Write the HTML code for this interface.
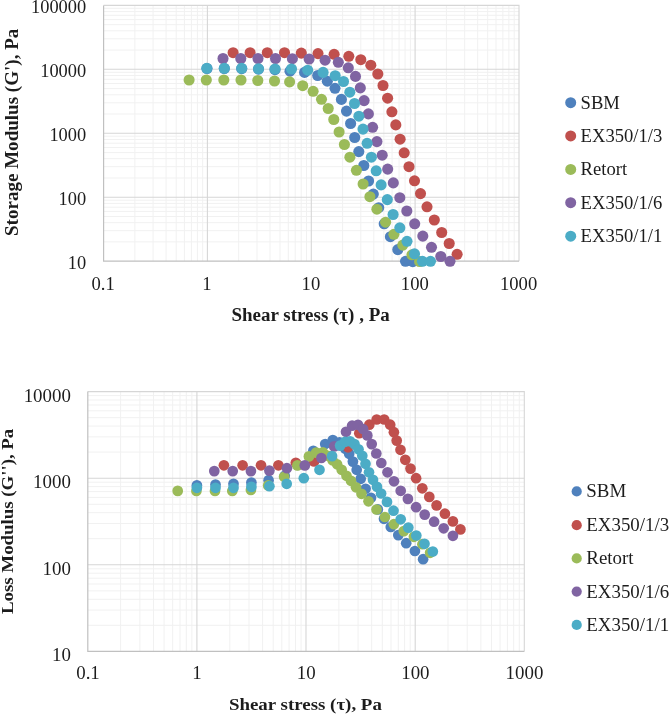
<!DOCTYPE html>
<html><head><meta charset="utf-8"><title>Moduli vs shear stress</title>
<style>html,body{margin:0;padding:0;background:#fff}body{width:669px;height:715px;overflow:hidden}svg{display:block}text{font-family:"Liberation Serif",serif;fill:#1c1c1c}</style>
</head><body>
<svg width="669" height="715" viewBox="0 0 669 715">
<rect width="669" height="715" fill="#fff"/>
<g transform="translate(0,0.5)">
<line x1="134.9" y1="4.9" x2="134.9" y2="260.7" stroke="#f1f1f1" stroke-width="1"/>
<line x1="153.1" y1="4.9" x2="153.1" y2="260.7" stroke="#f1f1f1" stroke-width="1"/>
<line x1="166.1" y1="4.9" x2="166.1" y2="260.7" stroke="#f1f1f1" stroke-width="1"/>
<line x1="176.2" y1="4.9" x2="176.2" y2="260.7" stroke="#f1f1f1" stroke-width="1"/>
<line x1="184.4" y1="4.9" x2="184.4" y2="260.7" stroke="#f1f1f1" stroke-width="1"/>
<line x1="191.4" y1="4.9" x2="191.4" y2="260.7" stroke="#f1f1f1" stroke-width="1"/>
<line x1="197.4" y1="4.9" x2="197.4" y2="260.7" stroke="#f1f1f1" stroke-width="1"/>
<line x1="202.7" y1="4.9" x2="202.7" y2="260.7" stroke="#f1f1f1" stroke-width="1"/>
<line x1="238.7" y1="4.9" x2="238.7" y2="260.7" stroke="#f1f1f1" stroke-width="1"/>
<line x1="257.0" y1="4.9" x2="257.0" y2="260.7" stroke="#f1f1f1" stroke-width="1"/>
<line x1="270.0" y1="4.9" x2="270.0" y2="260.7" stroke="#f1f1f1" stroke-width="1"/>
<line x1="280.0" y1="4.9" x2="280.0" y2="260.7" stroke="#f1f1f1" stroke-width="1"/>
<line x1="288.3" y1="4.9" x2="288.3" y2="260.7" stroke="#f1f1f1" stroke-width="1"/>
<line x1="295.2" y1="4.9" x2="295.2" y2="260.7" stroke="#f1f1f1" stroke-width="1"/>
<line x1="301.2" y1="4.9" x2="301.2" y2="260.7" stroke="#f1f1f1" stroke-width="1"/>
<line x1="306.5" y1="4.9" x2="306.5" y2="260.7" stroke="#f1f1f1" stroke-width="1"/>
<line x1="342.6" y1="4.9" x2="342.6" y2="260.7" stroke="#f1f1f1" stroke-width="1"/>
<line x1="360.8" y1="4.9" x2="360.8" y2="260.7" stroke="#f1f1f1" stroke-width="1"/>
<line x1="373.8" y1="4.9" x2="373.8" y2="260.7" stroke="#f1f1f1" stroke-width="1"/>
<line x1="383.9" y1="4.9" x2="383.9" y2="260.7" stroke="#f1f1f1" stroke-width="1"/>
<line x1="392.1" y1="4.9" x2="392.1" y2="260.7" stroke="#f1f1f1" stroke-width="1"/>
<line x1="399.1" y1="4.9" x2="399.1" y2="260.7" stroke="#f1f1f1" stroke-width="1"/>
<line x1="405.1" y1="4.9" x2="405.1" y2="260.7" stroke="#f1f1f1" stroke-width="1"/>
<line x1="410.4" y1="4.9" x2="410.4" y2="260.7" stroke="#f1f1f1" stroke-width="1"/>
<line x1="446.4" y1="4.9" x2="446.4" y2="260.7" stroke="#f1f1f1" stroke-width="1"/>
<line x1="464.7" y1="4.9" x2="464.7" y2="260.7" stroke="#f1f1f1" stroke-width="1"/>
<line x1="477.7" y1="4.9" x2="477.7" y2="260.7" stroke="#f1f1f1" stroke-width="1"/>
<line x1="487.7" y1="4.9" x2="487.7" y2="260.7" stroke="#f1f1f1" stroke-width="1"/>
<line x1="496.0" y1="4.9" x2="496.0" y2="260.7" stroke="#f1f1f1" stroke-width="1"/>
<line x1="502.9" y1="4.9" x2="502.9" y2="260.7" stroke="#f1f1f1" stroke-width="1"/>
<line x1="508.9" y1="4.9" x2="508.9" y2="260.7" stroke="#f1f1f1" stroke-width="1"/>
<line x1="514.2" y1="4.9" x2="514.2" y2="260.7" stroke="#f1f1f1" stroke-width="1"/>
<line x1="103.6" y1="241.4" x2="519" y2="241.4" stroke="#f1f1f1" stroke-width="1"/>
<line x1="103.6" y1="230.2" x2="519" y2="230.2" stroke="#f1f1f1" stroke-width="1"/>
<line x1="103.6" y1="222.2" x2="519" y2="222.2" stroke="#f1f1f1" stroke-width="1"/>
<line x1="103.6" y1="216.0" x2="519" y2="216.0" stroke="#f1f1f1" stroke-width="1"/>
<line x1="103.6" y1="210.9" x2="519" y2="210.9" stroke="#f1f1f1" stroke-width="1"/>
<line x1="103.6" y1="206.7" x2="519" y2="206.7" stroke="#f1f1f1" stroke-width="1"/>
<line x1="103.6" y1="202.9" x2="519" y2="202.9" stroke="#f1f1f1" stroke-width="1"/>
<line x1="103.6" y1="199.7" x2="519" y2="199.7" stroke="#f1f1f1" stroke-width="1"/>
<line x1="103.6" y1="177.5" x2="519" y2="177.5" stroke="#f1f1f1" stroke-width="1"/>
<line x1="103.6" y1="166.2" x2="519" y2="166.2" stroke="#f1f1f1" stroke-width="1"/>
<line x1="103.6" y1="158.2" x2="519" y2="158.2" stroke="#f1f1f1" stroke-width="1"/>
<line x1="103.6" y1="152.1" x2="519" y2="152.1" stroke="#f1f1f1" stroke-width="1"/>
<line x1="103.6" y1="147.0" x2="519" y2="147.0" stroke="#f1f1f1" stroke-width="1"/>
<line x1="103.6" y1="142.7" x2="519" y2="142.7" stroke="#f1f1f1" stroke-width="1"/>
<line x1="103.6" y1="139.0" x2="519" y2="139.0" stroke="#f1f1f1" stroke-width="1"/>
<line x1="103.6" y1="135.7" x2="519" y2="135.7" stroke="#f1f1f1" stroke-width="1"/>
<line x1="103.6" y1="113.5" x2="519" y2="113.5" stroke="#f1f1f1" stroke-width="1"/>
<line x1="103.6" y1="102.3" x2="519" y2="102.3" stroke="#f1f1f1" stroke-width="1"/>
<line x1="103.6" y1="94.3" x2="519" y2="94.3" stroke="#f1f1f1" stroke-width="1"/>
<line x1="103.6" y1="88.1" x2="519" y2="88.1" stroke="#f1f1f1" stroke-width="1"/>
<line x1="103.6" y1="83.0" x2="519" y2="83.0" stroke="#f1f1f1" stroke-width="1"/>
<line x1="103.6" y1="78.8" x2="519" y2="78.8" stroke="#f1f1f1" stroke-width="1"/>
<line x1="103.6" y1="75.0" x2="519" y2="75.0" stroke="#f1f1f1" stroke-width="1"/>
<line x1="103.6" y1="71.8" x2="519" y2="71.8" stroke="#f1f1f1" stroke-width="1"/>
<line x1="103.6" y1="49.6" x2="519" y2="49.6" stroke="#f1f1f1" stroke-width="1"/>
<line x1="103.6" y1="38.3" x2="519" y2="38.3" stroke="#f1f1f1" stroke-width="1"/>
<line x1="103.6" y1="30.3" x2="519" y2="30.3" stroke="#f1f1f1" stroke-width="1"/>
<line x1="103.6" y1="24.2" x2="519" y2="24.2" stroke="#f1f1f1" stroke-width="1"/>
<line x1="103.6" y1="19.1" x2="519" y2="19.1" stroke="#f1f1f1" stroke-width="1"/>
<line x1="103.6" y1="14.8" x2="519" y2="14.8" stroke="#f1f1f1" stroke-width="1"/>
<line x1="103.6" y1="11.1" x2="519" y2="11.1" stroke="#f1f1f1" stroke-width="1"/>
<line x1="103.6" y1="7.8" x2="519" y2="7.8" stroke="#f1f1f1" stroke-width="1"/>
<line x1="207.4" y1="4.9" x2="207.4" y2="260.7" stroke="#d6d6d6" stroke-width="1.1"/>
<line x1="311.3" y1="4.9" x2="311.3" y2="260.7" stroke="#d6d6d6" stroke-width="1.1"/>
<line x1="415.1" y1="4.9" x2="415.1" y2="260.7" stroke="#d6d6d6" stroke-width="1.1"/>
<line x1="103.6" y1="68.8" x2="519" y2="68.8" stroke="#d6d6d6" stroke-width="1.1"/>
<line x1="103.6" y1="132.8" x2="519" y2="132.8" stroke="#d6d6d6" stroke-width="1.1"/>
<line x1="103.6" y1="196.8" x2="519" y2="196.8" stroke="#d6d6d6" stroke-width="1.1"/>
<path d="M103.6 4.9H519V260.7" fill="none" stroke="#d6d6d6" stroke-width="1.1"/>
<path d="M103.6 4.9V260.7H519" fill="none" stroke="#c0c0c0" stroke-width="1.2"/>
<g fill="#4f81bd"><circle cx="207" cy="68" r="5.55"/><circle cx="224.3" cy="68" r="5.55"/><circle cx="241.7" cy="68.2" r="5.55"/><circle cx="258.5" cy="68.6" r="5.55"/><circle cx="275" cy="69.2" r="5.55"/><circle cx="290" cy="70.7" r="5.55"/><circle cx="304.6" cy="71.9" r="5.55"/><circle cx="317.7" cy="75" r="5.55"/><circle cx="327.3" cy="80.7" r="5.55"/><circle cx="335" cy="87.8" r="5.55"/><circle cx="341.4" cy="98.9" r="5.55"/><circle cx="346.5" cy="110.6" r="5.55"/><circle cx="350.6" cy="123" r="5.55"/><circle cx="354.7" cy="137" r="5.55"/><circle cx="358.8" cy="151.1" r="5.55"/><circle cx="363.8" cy="165" r="5.55"/><circle cx="368.6" cy="180.5" r="5.55"/><circle cx="373.3" cy="193.6" r="5.55"/><circle cx="378.7" cy="207.2" r="5.55"/><circle cx="384.2" cy="223.3" r="5.55"/><circle cx="390.4" cy="236.2" r="5.55"/><circle cx="397.8" cy="249.1" r="5.55"/><circle cx="405.5" cy="260.8" r="5.55"/><circle cx="412.8" cy="261.2" r="5.55"/></g>
<g fill="#c0504d"><circle cx="233.1" cy="52.2" r="5.55"/><circle cx="250.1" cy="52.2" r="5.55"/><circle cx="267.3" cy="52.2" r="5.55"/><circle cx="284.5" cy="52.2" r="5.55"/><circle cx="301.3" cy="52.6" r="5.55"/><circle cx="318" cy="53.1" r="5.55"/><circle cx="334.1" cy="53.8" r="5.55"/><circle cx="348.8" cy="55.8" r="5.55"/><circle cx="360.8" cy="59.2" r="5.55"/><circle cx="370.8" cy="64.7" r="5.55"/><circle cx="377.8" cy="73.5" r="5.55"/><circle cx="383" cy="85" r="5.55"/><circle cx="387.6" cy="97.7" r="5.55"/><circle cx="391.9" cy="111.3" r="5.55"/><circle cx="395.8" cy="124.4" r="5.55"/><circle cx="400.1" cy="138.7" r="5.55"/><circle cx="404.2" cy="152.3" r="5.55"/><circle cx="409" cy="166.2" r="5.55"/><circle cx="414.5" cy="180.3" r="5.55"/><circle cx="420.5" cy="193.1" r="5.55"/><circle cx="427" cy="206.3" r="5.55"/><circle cx="434.3" cy="219.5" r="5.55"/><circle cx="441.7" cy="232" r="5.55"/><circle cx="449.2" cy="243" r="5.55"/><circle cx="457.1" cy="253.8" r="5.55"/></g>
<g fill="#9bbb59"><circle cx="189.1" cy="79.5" r="5.55"/><circle cx="206.3" cy="79.5" r="5.55"/><circle cx="223.8" cy="79.5" r="5.55"/><circle cx="241" cy="79.5" r="5.55"/><circle cx="257.8" cy="80" r="5.55"/><circle cx="274.5" cy="80.5" r="5.55"/><circle cx="289.6" cy="81.4" r="5.55"/><circle cx="302.7" cy="85.2" r="5.55"/><circle cx="313.1" cy="90.8" r="5.55"/><circle cx="321.5" cy="98.8" r="5.55"/><circle cx="328.2" cy="108" r="5.55"/><circle cx="333.8" cy="119" r="5.55"/><circle cx="339.1" cy="131.5" r="5.55"/><circle cx="344.4" cy="144" r="5.55"/><circle cx="349.9" cy="156.7" r="5.55"/><circle cx="356.4" cy="169.8" r="5.55"/><circle cx="363.1" cy="183.5" r="5.55"/><circle cx="369.9" cy="196.2" r="5.55"/><circle cx="376.9" cy="208.7" r="5.55"/><circle cx="385.6" cy="221.7" r="5.55"/><circle cx="393.9" cy="233.8" r="5.55"/><circle cx="402.8" cy="244.6" r="5.55"/><circle cx="411.9" cy="254.3" r="5.55"/><circle cx="419.6" cy="261" r="5.55"/></g>
<g fill="#8064a2"><circle cx="223" cy="58" r="5.55"/><circle cx="240.8" cy="58" r="5.55"/><circle cx="258" cy="58" r="5.55"/><circle cx="275.5" cy="58" r="5.55"/><circle cx="292.4" cy="58.2" r="5.55"/><circle cx="309.1" cy="58.5" r="5.55"/><circle cx="325.1" cy="59.7" r="5.55"/><circle cx="338.3" cy="61.8" r="5.55"/><circle cx="348.3" cy="67.3" r="5.55"/><circle cx="355.5" cy="75.9" r="5.55"/><circle cx="360.3" cy="87.4" r="5.55"/><circle cx="364.1" cy="100.1" r="5.55"/><circle cx="368.4" cy="113.4" r="5.55"/><circle cx="372.6" cy="126.8" r="5.55"/><circle cx="376.9" cy="141.1" r="5.55"/><circle cx="382.2" cy="154.7" r="5.55"/><circle cx="387.7" cy="168.6" r="5.55"/><circle cx="393.3" cy="182.4" r="5.55"/><circle cx="399.8" cy="197.2" r="5.55"/><circle cx="406.8" cy="210.5" r="5.55"/><circle cx="414.7" cy="223.3" r="5.55"/><circle cx="422.8" cy="235.6" r="5.55"/><circle cx="431.5" cy="246.8" r="5.55"/><circle cx="440.8" cy="256" r="5.55"/><circle cx="450" cy="260.8" r="5.55"/></g>
<g fill="#4bacc6"><circle cx="206.8" cy="67.8" r="5.55"/><circle cx="224.3" cy="67.8" r="5.55"/><circle cx="241.7" cy="67.8" r="5.55"/><circle cx="258.5" cy="68.3" r="5.55"/><circle cx="275" cy="68.5" r="5.55"/><circle cx="291.5" cy="68.5" r="5.55"/><circle cx="307.7" cy="69.7" r="5.55"/><circle cx="323.1" cy="71.9" r="5.55"/><circle cx="335.2" cy="75.2" r="5.55"/><circle cx="343.5" cy="81" r="5.55"/><circle cx="349.8" cy="91.7" r="5.55"/><circle cx="354.5" cy="103" r="5.55"/><circle cx="358.9" cy="115.7" r="5.55"/><circle cx="363" cy="128.6" r="5.55"/><circle cx="367.1" cy="142.8" r="5.55"/><circle cx="371.4" cy="156.7" r="5.55"/><circle cx="376.2" cy="170.3" r="5.55"/><circle cx="381.1" cy="184.4" r="5.55"/><circle cx="387.3" cy="199.1" r="5.55"/><circle cx="393.1" cy="214" r="5.55"/><circle cx="399.8" cy="227.3" r="5.55"/><circle cx="407" cy="240.8" r="5.55"/><circle cx="414.5" cy="253.3" r="5.55"/><circle cx="422.4" cy="260.8" r="5.55"/><circle cx="430.5" cy="260.8" r="5.55"/></g>
</g>
<text x="86.2" y="12.8" text-anchor="end" font-size="18.4">100000</text>
<text x="86.2" y="76.8" text-anchor="end" font-size="18.4">10000</text>
<text x="86.2" y="140.7" text-anchor="end" font-size="18.4">1000</text>
<text x="86.2" y="204.7" text-anchor="end" font-size="18.4">100</text>
<text x="86.2" y="268.6" text-anchor="end" font-size="18.4">10</text>
<text x="103.2" y="290.4" text-anchor="middle" font-size="18.6">0.1</text>
<text x="207.0" y="290.4" text-anchor="middle" font-size="18.6">1</text>
<text x="310.9" y="290.4" text-anchor="middle" font-size="18.6">10</text>
<text x="414.8" y="290.4" text-anchor="middle" font-size="18.6">100</text>
<text x="518.6" y="290.4" text-anchor="middle" font-size="18.6">1000</text>
<text x="231.4" y="321" text-anchor="start" font-size="18.6" font-weight="bold" textLength="158.4" lengthAdjust="spacingAndGlyphs">Shear stress (τ) , Pa</text>
<text transform="translate(18.2,236) rotate(-90)" text-anchor="start" font-size="18.3" font-weight="bold" textLength="207.3" lengthAdjust="spacingAndGlyphs">Storage Modulus (G'), Pa</text>
<circle cx="570.7" cy="102.7" r="5.5" fill="#4f81bd"/>
<text x="580.6" y="108.7" text-anchor="start" font-size="18.6">SBM</text>
<circle cx="570.7" cy="135.9" r="5.5" fill="#c0504d"/>
<text x="580.6" y="141.9" text-anchor="start" font-size="18.6">EX350/1/3</text>
<circle cx="570.7" cy="169.4" r="5.5" fill="#9bbb59"/>
<text x="580.6" y="175.4" text-anchor="start" font-size="18.6">Retort</text>
<circle cx="570.7" cy="202.7" r="5.5" fill="#8064a2"/>
<text x="580.6" y="208.7" text-anchor="start" font-size="18.6">EX350/1/6</text>
<circle cx="570.7" cy="236.2" r="5.5" fill="#4bacc6"/>
<text x="580.6" y="242.2" text-anchor="start" font-size="18.6">EX350/1/1</text>
<line x1="120.6" y1="391.6" x2="120.6" y2="651.4" stroke="#f1f1f1" stroke-width="1"/>
<line x1="139.9" y1="391.6" x2="139.9" y2="651.4" stroke="#f1f1f1" stroke-width="1"/>
<line x1="153.5" y1="391.6" x2="153.5" y2="651.4" stroke="#f1f1f1" stroke-width="1"/>
<line x1="164.1" y1="391.6" x2="164.1" y2="651.4" stroke="#f1f1f1" stroke-width="1"/>
<line x1="172.7" y1="391.6" x2="172.7" y2="651.4" stroke="#f1f1f1" stroke-width="1"/>
<line x1="180.0" y1="391.6" x2="180.0" y2="651.4" stroke="#f1f1f1" stroke-width="1"/>
<line x1="186.3" y1="391.6" x2="186.3" y2="651.4" stroke="#f1f1f1" stroke-width="1"/>
<line x1="191.9" y1="391.6" x2="191.9" y2="651.4" stroke="#f1f1f1" stroke-width="1"/>
<line x1="229.8" y1="391.6" x2="229.8" y2="651.4" stroke="#f1f1f1" stroke-width="1"/>
<line x1="249.0" y1="391.6" x2="249.0" y2="651.4" stroke="#f1f1f1" stroke-width="1"/>
<line x1="262.6" y1="391.6" x2="262.6" y2="651.4" stroke="#f1f1f1" stroke-width="1"/>
<line x1="273.2" y1="391.6" x2="273.2" y2="651.4" stroke="#f1f1f1" stroke-width="1"/>
<line x1="281.8" y1="391.6" x2="281.8" y2="651.4" stroke="#f1f1f1" stroke-width="1"/>
<line x1="289.1" y1="391.6" x2="289.1" y2="651.4" stroke="#f1f1f1" stroke-width="1"/>
<line x1="295.5" y1="391.6" x2="295.5" y2="651.4" stroke="#f1f1f1" stroke-width="1"/>
<line x1="301.1" y1="391.6" x2="301.1" y2="651.4" stroke="#f1f1f1" stroke-width="1"/>
<line x1="338.9" y1="391.6" x2="338.9" y2="651.4" stroke="#f1f1f1" stroke-width="1"/>
<line x1="358.1" y1="391.6" x2="358.1" y2="651.4" stroke="#f1f1f1" stroke-width="1"/>
<line x1="371.7" y1="391.6" x2="371.7" y2="651.4" stroke="#f1f1f1" stroke-width="1"/>
<line x1="382.3" y1="391.6" x2="382.3" y2="651.4" stroke="#f1f1f1" stroke-width="1"/>
<line x1="391.0" y1="391.6" x2="391.0" y2="651.4" stroke="#f1f1f1" stroke-width="1"/>
<line x1="398.3" y1="391.6" x2="398.3" y2="651.4" stroke="#f1f1f1" stroke-width="1"/>
<line x1="404.6" y1="391.6" x2="404.6" y2="651.4" stroke="#f1f1f1" stroke-width="1"/>
<line x1="410.2" y1="391.6" x2="410.2" y2="651.4" stroke="#f1f1f1" stroke-width="1"/>
<line x1="448.0" y1="391.6" x2="448.0" y2="651.4" stroke="#f1f1f1" stroke-width="1"/>
<line x1="467.2" y1="391.6" x2="467.2" y2="651.4" stroke="#f1f1f1" stroke-width="1"/>
<line x1="480.9" y1="391.6" x2="480.9" y2="651.4" stroke="#f1f1f1" stroke-width="1"/>
<line x1="491.5" y1="391.6" x2="491.5" y2="651.4" stroke="#f1f1f1" stroke-width="1"/>
<line x1="500.1" y1="391.6" x2="500.1" y2="651.4" stroke="#f1f1f1" stroke-width="1"/>
<line x1="507.4" y1="391.6" x2="507.4" y2="651.4" stroke="#f1f1f1" stroke-width="1"/>
<line x1="513.7" y1="391.6" x2="513.7" y2="651.4" stroke="#f1f1f1" stroke-width="1"/>
<line x1="519.3" y1="391.6" x2="519.3" y2="651.4" stroke="#f1f1f1" stroke-width="1"/>
<line x1="87.8" y1="625.3" x2="524.3" y2="625.3" stroke="#f1f1f1" stroke-width="1"/>
<line x1="87.8" y1="610.1" x2="524.3" y2="610.1" stroke="#f1f1f1" stroke-width="1"/>
<line x1="87.8" y1="599.3" x2="524.3" y2="599.3" stroke="#f1f1f1" stroke-width="1"/>
<line x1="87.8" y1="590.9" x2="524.3" y2="590.9" stroke="#f1f1f1" stroke-width="1"/>
<line x1="87.8" y1="584.0" x2="524.3" y2="584.0" stroke="#f1f1f1" stroke-width="1"/>
<line x1="87.8" y1="578.2" x2="524.3" y2="578.2" stroke="#f1f1f1" stroke-width="1"/>
<line x1="87.8" y1="573.2" x2="524.3" y2="573.2" stroke="#f1f1f1" stroke-width="1"/>
<line x1="87.8" y1="568.8" x2="524.3" y2="568.8" stroke="#f1f1f1" stroke-width="1"/>
<line x1="87.8" y1="538.7" x2="524.3" y2="538.7" stroke="#f1f1f1" stroke-width="1"/>
<line x1="87.8" y1="523.5" x2="524.3" y2="523.5" stroke="#f1f1f1" stroke-width="1"/>
<line x1="87.8" y1="512.7" x2="524.3" y2="512.7" stroke="#f1f1f1" stroke-width="1"/>
<line x1="87.8" y1="504.3" x2="524.3" y2="504.3" stroke="#f1f1f1" stroke-width="1"/>
<line x1="87.8" y1="497.4" x2="524.3" y2="497.4" stroke="#f1f1f1" stroke-width="1"/>
<line x1="87.8" y1="491.6" x2="524.3" y2="491.6" stroke="#f1f1f1" stroke-width="1"/>
<line x1="87.8" y1="486.6" x2="524.3" y2="486.6" stroke="#f1f1f1" stroke-width="1"/>
<line x1="87.8" y1="482.2" x2="524.3" y2="482.2" stroke="#f1f1f1" stroke-width="1"/>
<line x1="87.8" y1="452.1" x2="524.3" y2="452.1" stroke="#f1f1f1" stroke-width="1"/>
<line x1="87.8" y1="436.9" x2="524.3" y2="436.9" stroke="#f1f1f1" stroke-width="1"/>
<line x1="87.8" y1="426.1" x2="524.3" y2="426.1" stroke="#f1f1f1" stroke-width="1"/>
<line x1="87.8" y1="417.7" x2="524.3" y2="417.7" stroke="#f1f1f1" stroke-width="1"/>
<line x1="87.8" y1="410.8" x2="524.3" y2="410.8" stroke="#f1f1f1" stroke-width="1"/>
<line x1="87.8" y1="405.0" x2="524.3" y2="405.0" stroke="#f1f1f1" stroke-width="1"/>
<line x1="87.8" y1="400.0" x2="524.3" y2="400.0" stroke="#f1f1f1" stroke-width="1"/>
<line x1="87.8" y1="395.6" x2="524.3" y2="395.6" stroke="#f1f1f1" stroke-width="1"/>
<line x1="196.9" y1="391.6" x2="196.9" y2="651.4" stroke="#d6d6d6" stroke-width="1.1"/>
<line x1="306.0" y1="391.6" x2="306.0" y2="651.4" stroke="#d6d6d6" stroke-width="1.1"/>
<line x1="415.2" y1="391.6" x2="415.2" y2="651.4" stroke="#d6d6d6" stroke-width="1.1"/>
<line x1="87.8" y1="478.2" x2="524.3" y2="478.2" stroke="#d6d6d6" stroke-width="1.1"/>
<line x1="87.8" y1="564.8" x2="524.3" y2="564.8" stroke="#d6d6d6" stroke-width="1.1"/>
<path d="M87.8 391.6H524.3V651.4" fill="none" stroke="#d6d6d6" stroke-width="1.1"/>
<path d="M87.8 391.6V651.4H524.3" fill="none" stroke="#c0c0c0" stroke-width="1.2"/>
<g transform="translate(0.5,0.8)">
<g fill="#4f81bd"><circle cx="196.4" cy="484.6" r="5.35"/><circle cx="215" cy="483.7" r="5.35"/><circle cx="233" cy="483" r="5.35"/><circle cx="250.9" cy="481.8" r="5.35"/><circle cx="268.1" cy="479.4" r="5.35"/><circle cx="284.2" cy="475" r="5.35"/><circle cx="297.3" cy="464.2" r="5.35"/><circle cx="312.8" cy="450.1" r="5.35"/><circle cx="324.7" cy="443.2" r="5.35"/><circle cx="332.3" cy="439.3" r="5.35"/><circle cx="339" cy="441.5" r="5.35"/><circle cx="344.8" cy="447.8" r="5.35"/><circle cx="348.7" cy="453" r="5.35"/><circle cx="352.4" cy="460.8" r="5.35"/><circle cx="356.2" cy="469" r="5.35"/><circle cx="360.2" cy="478" r="5.35"/><circle cx="365.1" cy="488" r="5.35"/><circle cx="370.5" cy="497" r="5.35"/><circle cx="377.3" cy="508.6" r="5.35"/><circle cx="383.5" cy="518" r="5.35"/><circle cx="390.3" cy="526.2" r="5.35"/><circle cx="397.8" cy="534.3" r="5.35"/><circle cx="405.7" cy="542.4" r="5.35"/><circle cx="414.4" cy="550.2" r="5.35"/><circle cx="422.6" cy="558.4" r="5.35"/></g>
<g fill="#c0504d"><circle cx="223.4" cy="464.5" r="5.35"/><circle cx="242.1" cy="464.5" r="5.35"/><circle cx="260.5" cy="464.5" r="5.35"/><circle cx="277.9" cy="464.5" r="5.35"/><circle cx="295.3" cy="462" r="5.35"/><circle cx="313.5" cy="460.6" r="5.35"/><circle cx="330.5" cy="456" r="5.35"/><circle cx="347.5" cy="446.5" r="5.35"/><circle cx="358.8" cy="432.4" r="5.35"/><circle cx="368.8" cy="423.9" r="5.35"/><circle cx="376.2" cy="418.7" r="5.35"/><circle cx="383.7" cy="418.7" r="5.35"/><circle cx="389.7" cy="423.9" r="5.35"/><circle cx="393.4" cy="431.4" r="5.35"/><circle cx="396.2" cy="439.8" r="5.35"/><circle cx="400" cy="449" r="5.35"/><circle cx="404.8" cy="459" r="5.35"/><circle cx="410" cy="467.8" r="5.35"/><circle cx="415.6" cy="477.4" r="5.35"/><circle cx="421.8" cy="487.5" r="5.35"/><circle cx="428.8" cy="496.1" r="5.35"/><circle cx="436.1" cy="504.6" r="5.35"/><circle cx="444.4" cy="512.9" r="5.35"/><circle cx="452.4" cy="520.6" r="5.35"/><circle cx="459.9" cy="528.6" r="5.35"/></g>
<g fill="#9bbb59"><circle cx="177.2" cy="490.1" r="5.35"/><circle cx="195.9" cy="490.2" r="5.35"/><circle cx="214.5" cy="490.2" r="5.35"/><circle cx="231.8" cy="490.2" r="5.35"/><circle cx="250.4" cy="489.2" r="5.35"/><circle cx="267.7" cy="484.6" r="5.35"/><circle cx="283.6" cy="476" r="5.35"/><circle cx="296.9" cy="464.6" r="5.35"/><circle cx="308.4" cy="455.6" r="5.35"/><circle cx="315.7" cy="451.8" r="5.35"/><circle cx="322.4" cy="451.6" r="5.35"/><circle cx="327.5" cy="455" r="5.35"/><circle cx="332" cy="459.5" r="5.35"/><circle cx="336.6" cy="463.5" r="5.35"/><circle cx="341.2" cy="469" r="5.35"/><circle cx="346" cy="475" r="5.35"/><circle cx="350.5" cy="480" r="5.35"/><circle cx="355.5" cy="486.5" r="5.35"/><circle cx="361" cy="493" r="5.35"/><circle cx="368" cy="500.5" r="5.35"/><circle cx="376" cy="508.7" r="5.35"/><circle cx="384.4" cy="516.2" r="5.35"/><circle cx="393.4" cy="523.4" r="5.35"/><circle cx="403.3" cy="530.3" r="5.35"/><circle cx="413.4" cy="536" r="5.35"/><circle cx="421.9" cy="543.4" r="5.35"/><circle cx="429.6" cy="552" r="5.35"/></g>
<g fill="#8064a2"><circle cx="213.8" cy="470.3" r="5.35"/><circle cx="232.2" cy="470.3" r="5.35"/><circle cx="250.4" cy="470.3" r="5.35"/><circle cx="268.9" cy="469.8" r="5.35"/><circle cx="286.4" cy="467.4" r="5.35"/><circle cx="304.3" cy="464.6" r="5.35"/><circle cx="320.9" cy="457.2" r="5.35"/><circle cx="333.7" cy="445.6" r="5.35"/><circle cx="345.5" cy="431" r="5.35"/><circle cx="351.6" cy="424.9" r="5.35"/><circle cx="357.5" cy="424" r="5.35"/><circle cx="362.6" cy="428.2" r="5.35"/><circle cx="366.8" cy="434.6" r="5.35"/><circle cx="371.2" cy="443.3" r="5.35"/><circle cx="375.8" cy="452.7" r="5.35"/><circle cx="380.8" cy="462.2" r="5.35"/><circle cx="387" cy="471.5" r="5.35"/><circle cx="393.5" cy="480.5" r="5.35"/><circle cx="400.2" cy="490" r="5.35"/><circle cx="407.4" cy="498.1" r="5.35"/><circle cx="415.6" cy="506.4" r="5.35"/><circle cx="424.2" cy="513.8" r="5.35"/><circle cx="433.6" cy="520.9" r="5.35"/><circle cx="443.2" cy="527.5" r="5.35"/><circle cx="452.4" cy="535" r="5.35"/></g>
<g fill="#4bacc6"><circle cx="196.4" cy="487" r="5.35"/><circle cx="215" cy="487" r="5.35"/><circle cx="233" cy="487" r="5.35"/><circle cx="250.9" cy="486.1" r="5.35"/><circle cx="268.9" cy="485.4" r="5.35"/><circle cx="286.2" cy="483" r="5.35"/><circle cx="303.3" cy="477.4" r="5.35"/><circle cx="319" cy="469" r="5.35"/><circle cx="331.6" cy="455.3" r="5.35"/><circle cx="339.6" cy="444.8" r="5.35"/><circle cx="344.6" cy="441" r="5.35"/><circle cx="349.6" cy="440.5" r="5.35"/><circle cx="354" cy="443.3" r="5.35"/><circle cx="358" cy="448.5" r="5.35"/><circle cx="361.8" cy="455" r="5.35"/><circle cx="365" cy="463" r="5.35"/><circle cx="368.5" cy="471.5" r="5.35"/><circle cx="372.5" cy="479" r="5.35"/><circle cx="376.5" cy="486" r="5.35"/><circle cx="380.6" cy="492.7" r="5.35"/><circle cx="386.5" cy="501.1" r="5.35"/><circle cx="393" cy="509.9" r="5.35"/><circle cx="400.2" cy="518.5" r="5.35"/><circle cx="407.8" cy="526.8" r="5.35"/><circle cx="415.8" cy="534.7" r="5.35"/><circle cx="424" cy="543" r="5.35"/><circle cx="432.3" cy="550.7" r="5.35"/></g>
</g>
<text x="70.9" y="401.6" text-anchor="end" font-size="18.9">10000</text>
<text x="70.9" y="488.2" text-anchor="end" font-size="18.9">1000</text>
<text x="70.9" y="574.8" text-anchor="end" font-size="18.9">100</text>
<text x="70.9" y="661.4" text-anchor="end" font-size="18.9">10</text>
<text x="88.0" y="679.3" text-anchor="middle" font-size="18.9">0.1</text>
<text x="197.1" y="679.3" text-anchor="middle" font-size="18.9">1</text>
<text x="306.2" y="679.3" text-anchor="middle" font-size="18.9">10</text>
<text x="415.4" y="679.3" text-anchor="middle" font-size="18.9">100</text>
<text x="524.5" y="679.3" text-anchor="middle" font-size="18.9">1000</text>
<text x="228.9" y="710.3" text-anchor="start" font-size="17.6" font-weight="bold" textLength="153" lengthAdjust="spacingAndGlyphs">Shear stress (τ), Pa</text>
<text transform="translate(13.3,614) rotate(-90)" text-anchor="start" font-size="17.5" font-weight="bold" textLength="185.3" lengthAdjust="spacingAndGlyphs">Loss Modulus (G''), Pa</text>
<circle cx="576.7" cy="491.4" r="5.1" fill="#4f81bd"/>
<text x="586.3" y="497.4" text-anchor="start" font-size="18.9">SBM</text>
<circle cx="576.7" cy="525.2" r="5.1" fill="#c0504d"/>
<text x="586.3" y="531.2" text-anchor="start" font-size="18.9">EX350/1/3</text>
<circle cx="576.7" cy="558.4" r="5.1" fill="#9bbb59"/>
<text x="586.3" y="564.4" text-anchor="start" font-size="18.9">Retort</text>
<circle cx="576.7" cy="591.6" r="5.1" fill="#8064a2"/>
<text x="586.3" y="597.6" text-anchor="start" font-size="18.9">EX350/1/6</text>
<circle cx="576.7" cy="624.9" r="5.1" fill="#4bacc6"/>
<text x="586.3" y="630.9" text-anchor="start" font-size="18.9">EX350/1/1</text>
</svg></body></html>
